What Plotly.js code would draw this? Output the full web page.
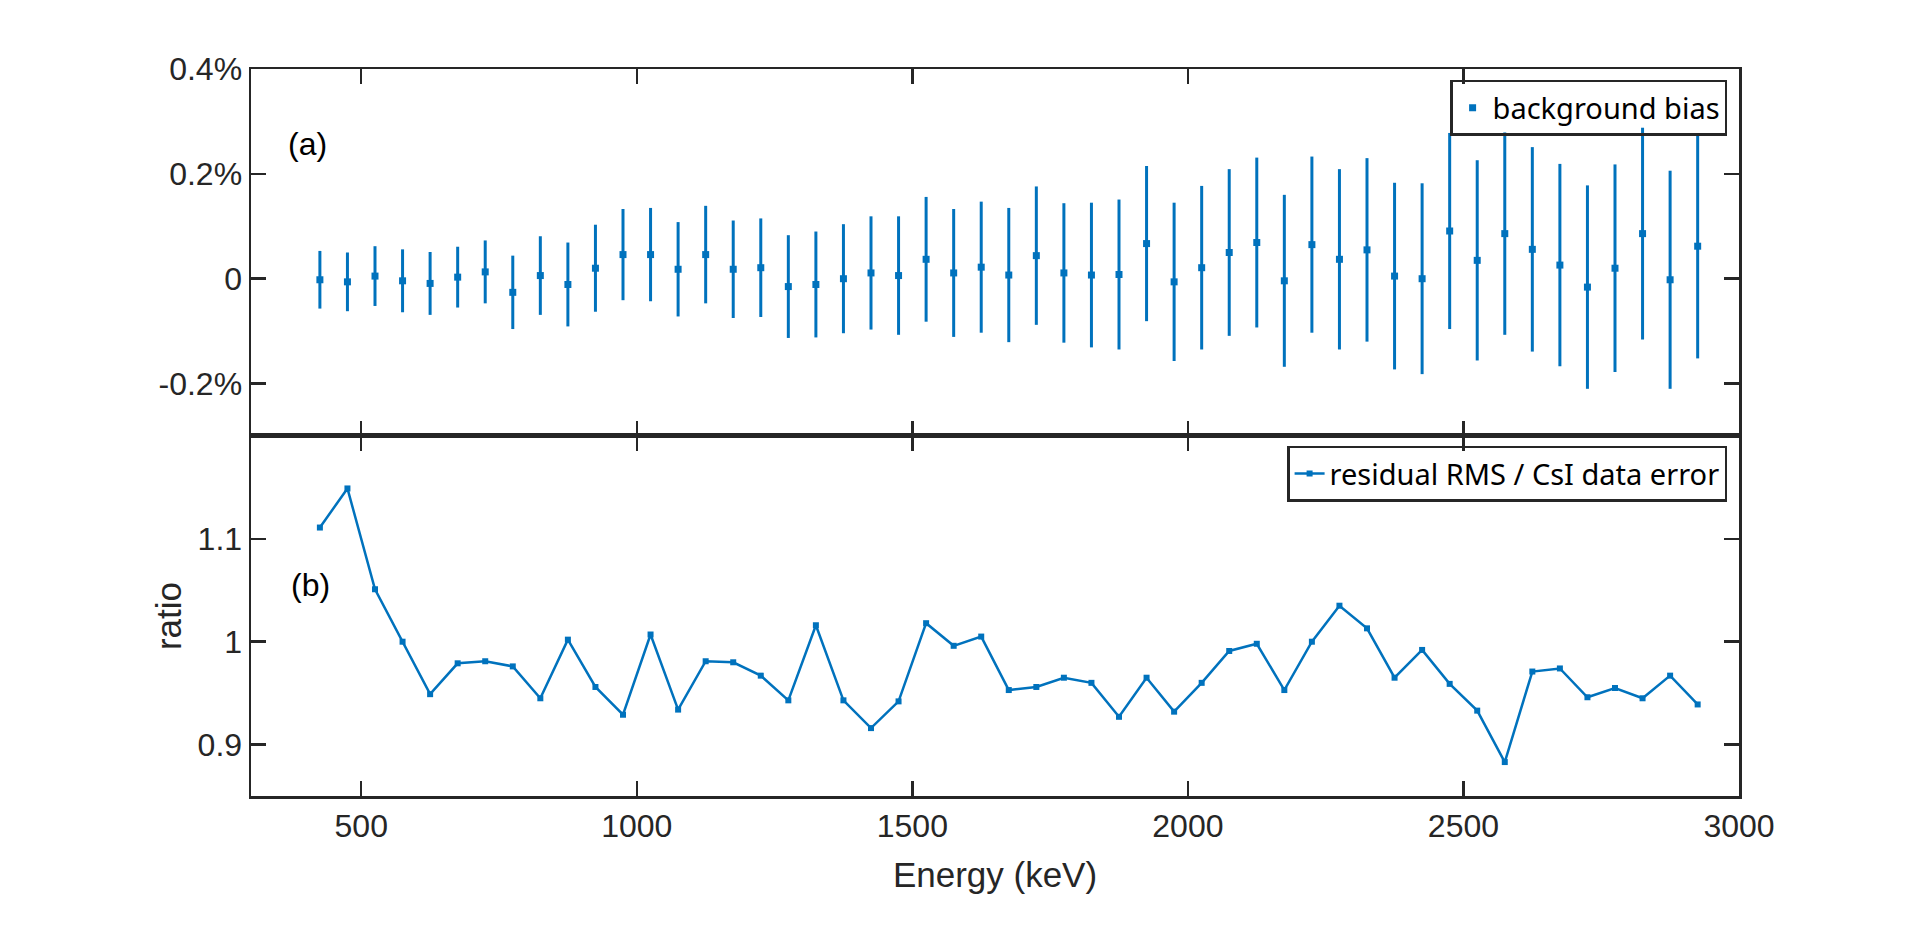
<!DOCTYPE html>
<html>
<head>
<meta charset="utf-8">
<script src="https://cdn.plot.ly/plotly-3.0.1.min.js"></script>
<style>
  html, body { margin: 0; padding: 0; background: #ffffff; }
  #chart { width: 1920px; height: 927px; }
</style>
</head>
<body>
<div id="chart"></div>
<script>
// ── Datos ─────────────────────────────────────────────────────────────────
const energy = [
   425,  475,  525,  575,  625,  675,  725,  775,  825,  875,
   925,  975, 1025, 1075, 1125, 1175, 1225, 1275, 1325, 1375,
  1425, 1475, 1525, 1575, 1625, 1675, 1725, 1775, 1825, 1875,
  1925, 1975, 2025, 2075, 2125, 2175, 2225, 2275, 2325, 2375,
  2425, 2475, 2525, 2575, 2625, 2675, 2725, 2775, 2825, 2875,
  2925
];

// sesgo de fondo (en %)
const biasPct = [
  -0.002, -0.006,  0.005, -0.004, -0.009,  0.003,  0.013, -0.026,  0.006, -0.011,
   0.020,  0.046,  0.046,  0.018,  0.046,  0.018,  0.021, -0.015, -0.011,  0.000,
   0.011,  0.006,  0.037,  0.011,  0.022,  0.007,  0.044,  0.011,  0.007,  0.008,
   0.067, -0.006,  0.021,  0.050,  0.069, -0.004,  0.065,  0.037,  0.055,  0.005,
   0.000,  0.091,  0.035,  0.086,  0.056,  0.026, -0.016,  0.020,  0.086, -0.002,
   0.062
];

const biasErrPct = [
  0.055, 0.056, 0.057, 0.060, 0.060, 0.058, 0.060, 0.070, 0.075, 0.080,
  0.083, 0.087, 0.089, 0.090, 0.093, 0.093, 0.094, 0.098, 0.101, 0.104,
  0.108, 0.113, 0.119, 0.122, 0.125, 0.128, 0.132, 0.133, 0.138, 0.143,
  0.148, 0.151, 0.156, 0.159, 0.162, 0.164, 0.168, 0.172, 0.175, 0.178,
  0.182, 0.187, 0.191, 0.193, 0.195, 0.193, 0.194, 0.198, 0.202, 0.208,
  0.214
];

const ratio = [
  1.111, 1.149, 1.051, 1.000, 0.949, 0.979, 0.981, 0.976, 0.945, 1.002,
  0.956, 0.929, 1.007, 0.934, 0.981, 0.980, 0.967, 0.943, 1.016, 0.943,
  0.916, 0.942, 1.018, 0.996, 1.005, 0.953, 0.956, 0.965, 0.960, 0.927,
  0.965, 0.932, 0.960, 0.991, 0.998, 0.953, 1.000, 1.035, 1.013, 0.965,
  0.992, 0.959, 0.933, 0.883, 0.971, 0.974, 0.946, 0.955, 0.945, 0.967,
  0.939
];

const xTicks      = [500, 1000, 1500, 2000, 2500, 3000];
const biasTicks   = [-0.2, 0, 0.2, 0.4];
const biasLabels  = ['-0.2%', '0', '0.2%', '0.4%'];
const ratioTicks  = [0.9, 1, 1.1];
const ratioLabels = ['0.9', '1', '1.1'];

// ── Estilo ────────────────────────────────────────────────────────────────
const BLUE = '#0072BD';
const INK  = '#262626';
const FONT = 'Liberation Sans, Arial, sans-serif';

const axisBase = {
  showline: true,
  linecolor: INK,
  linewidth: 2.5,
  mirror: 'ticks',
  ticks: 'inside',
  ticklen: 15,
  tickwidth: 2.5,
  tickcolor: INK,
  showgrid: false,
  zeroline: false,
  tickfont: { family: FONT, size: 32, color: INK }
};

const traceBias = {
  type: 'scatter',
  mode: 'markers',
  name: 'background bias',
  x: energy,
  y: biasPct,
  xaxis: 'x',
  yaxis: 'y',
  marker: { symbol: 'square', size: 7, color: BLUE },
  error_y: {
    type: 'data',
    array: biasErrPct,
    visible: true,
    color: BLUE,
    thickness: 3,
    width: 0
  },
  legend: 'legend',
  hoverinfo: 'x+y'
};

const traceRatio = {
  type: 'scatter',
  mode: 'lines+markers',
  name: 'residual RMS / CsI data error',
  x: energy,
  y: ratio,
  xaxis: 'x2',
  yaxis: 'y2',
  line: { color: BLUE, width: 2.5 },
  marker: { symbol: 'square', size: 6, color: BLUE },
  legend: 'legend2',
  hoverinfo: 'x+y'
};

const legendBase = {
  xref: 'paper',
  yref: 'paper',
  xanchor: 'right',
  yanchor: 'top',
  bgcolor: 'rgba(255,255,255,0)',
  bordercolor: INK,
  borderwidth: 2.5,
  font: { family: 'Noto Sans, sans-serif', size: 29, color: '#000000' },
  tracegroupgap: 0
};

const layout = {
  width: 1920,
  height: 927,
  paper_bgcolor: '#ffffff',
  plot_bgcolor: '#ffffff',
  font: { family: FONT, size: 32, color: INK },
  margin: { l: 251, r: 181, t: 69, b: 131, autoexpand: false },
  showlegend: true,
  legend:  Object.assign({}, legendBase, { x: 0.992, y: 0.985 }),
  legend2: Object.assign({}, legendBase, { x: 0.992, y: 0.482 }),
  xaxis: Object.assign({}, axisBase, {
    domain: [0, 1],
    anchor: 'y',
    range: [300, 3000],
    tickvals: xTicks,
    showticklabels: false
  }),
  yaxis: Object.assign({}, axisBase, {
    domain: [0.4952, 1],
    anchor: 'x',
    range: [-0.3, 0.4],
    tickvals: biasTicks,
    ticktext: biasLabels
  }),
  xaxis2: Object.assign({}, axisBase, {
    domain: [0, 1],
    anchor: 'y2',
    range: [300, 3000],
    tickvals: xTicks,
    ticklabelstandoff: 0,
    title: { text: 'Energy (keV)', font: { family: FONT, size: 35, color: INK }, standoff: 20 }
  }),
  yaxis2: Object.assign({}, axisBase, {
    domain: [0, 0.4952],
    anchor: 'x2',
    range: [0.85, 1.2],
    tickvals: ratioTicks,
    ticktext: ratioLabels,
    title: { text: 'ratio', font: { family: FONT, size: 35, color: INK }, standoff: 6 }
  }),
  annotations: [
    { text: '(a)', xref: 'paper', yref: 'paper', x: 0.038, y: 0.897,
      xanchor: 'center', yanchor: 'middle',
      showarrow: false, font: { family: FONT, size: 32, color: '#000000' } },
    { text: '(b)', xref: 'paper', yref: 'paper', x: 0.040, y: 0.290,
      xanchor: 'center', yanchor: 'middle',
      showarrow: false, font: { family: FONT, size: 32, color: '#000000' } }
  ]
};

Plotly.newPlot('chart', [traceBias, traceRatio], layout, { displayModeBar: false, staticPlot: true });
</script>
</body>
</html>
